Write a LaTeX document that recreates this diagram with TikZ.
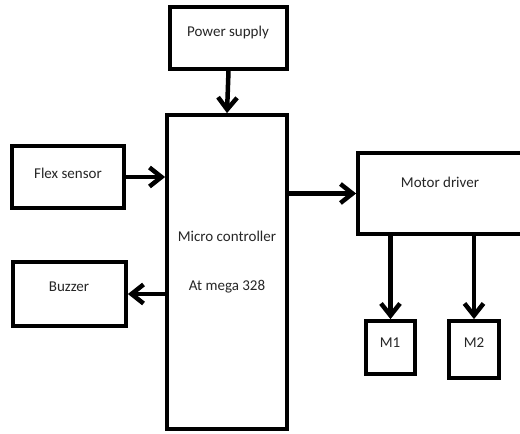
\documentclass[tikz,border=0pt]{standalone}
\usepackage{fontspec}
\setmainfont{Carlito}
\usetikzlibrary{arrows.meta}
\begin{document}
\begin{tikzpicture}[x=1pt,y=-1pt,
  box/.style={draw=black,line width=3.8pt,inner sep=0pt,rectangle},
  lbl/.style={font=\fontsize{15}{17}\selectfont,inner sep=0pt,text=black!85},
  conn/.style={line width=4.5pt,-{Straight Barb[length=12pt,width=19pt]}}]
\clip (0,0) rectangle (520,434);
\fill[white] (0,0) rectangle (520,434);
% boxes
\node[box,minimum width=117pt,minimum height=62pt] (ps) at (228.5,38) {};
\node[box,minimum width=120pt,minimum height=314pt] (mc) at (227,272) {};
\node[box,minimum width=112pt,minimum height=62pt] (fs) at (68,177) {};
\node[box,minimum width=113pt,minimum height=64pt] (bz) at (69.5,294) {};
\node[box,minimum width=172pt,minimum height=81pt] (md) at (444,193.5) {};
\node[box,minimum width=49pt,minimum height=53pt] (ma) at (390.5,347.5) {};
\node[box,minimum width=50pt,minimum height=57pt] (mb) at (474,349.5) {};
% labels
\node[lbl] (tps) at (228,32) {Power supply};
\node[lbl] (tfs) at (68,173) {Flex sensor};
\node[lbl] (tbz) at (69,287) {Buzzer};
\node[lbl] (tmc1) at (227,236) {Micro controller};
\node[lbl] (tmc2) at (227,287) {At mega 328};
\node[lbl] (tmd) at (440,182) {Motor driver};
\node[lbl] (tma) at (390,343) {M1};
\node[lbl] (tmb) at (474,343) {M2};
% connectors
\draw[conn] (ps.south) -- (mc.north);
\draw[conn] (fs.east) -- (fs.east -| mc.west);
\draw[conn] (mc.west |- bz.east) -- (bz.east);
\draw[conn] (mc.east |- md.west) -- (md.west);
\draw[conn] (md.south -| ma.north) -- (ma.north);
\draw[conn] (md.south -| mb.north) -- (mb.north);
\end{tikzpicture}
\end{document}
